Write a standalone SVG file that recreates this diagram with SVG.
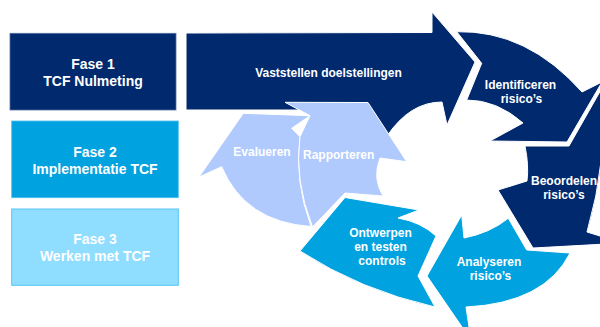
<svg xmlns="http://www.w3.org/2000/svg" width="600" height="327" viewBox="0 0 600 327">
<style>
.navy{fill:#00296E;stroke:#FFFFFF;stroke-width:1;stroke-linejoin:miter}
.mid{fill:#00A2DF;stroke:#FFFFFF;stroke-width:1}
.light{fill:#B0CAFD;stroke:#FFFFFF;stroke-width:1}
.t{font-family:"Liberation Sans",Arial,sans-serif;font-weight:bold;fill:#FFFFFF;text-anchor:middle}
.big{font-size:14px}
.sm{font-size:12px}
</style>
<rect width="600" height="327" fill="#FFFFFF"/>
<g id="fase1">
<rect x="10" y="33.3" width="166" height="76.7" fill="#00296E" stroke="#5570A0" stroke-width="0.8"/>
<text class="t big" x="93" y="68.5">Fase 1</text>
<text class="t big" x="93" y="85.5">TCF Nulmeting</text>
</g>
<g id="fase2">
<rect x="11.7" y="121" width="166.6" height="76.7" fill="#00A2DF" stroke="#4FC0EE" stroke-width="0.8"/>
<text class="t big" x="95" y="157">Fase 2</text>
<text class="t big" x="95" y="174">Implementatie TCF</text>
</g>
<g id="fase3">
<rect x="11.7" y="209" width="166.6" height="76.3" fill="#8FDDFF" stroke="#58C6F2" stroke-width="1"/>
<text class="t big" x="95" y="244">Fase 3</text>
<text class="t big" x="95" y="261">Werken met TCF</text>
</g>
<g id="evalueren">
<path class="light" d="M243.3,113.3 L310,115.7 L291.7,128.3 L300,136.7 Q294,180 311,226.5 Q245,222 221.7,166.7 L199,177 Z"/>
<text class="t sm" x="262" y="155.5">Evalueren</text>
</g>
<g id="vaststellen">
<path class="navy" d="M186,33 L432,32.5 L432,12 L475,62 L447,125 L442,102 Q410,102 387,136 L360,110 L186,110 Z"/>
<text class="t sm" x="328.5" y="76.5">Vaststellen doelstellingen</text>
</g>
<g id="identificeren">
<path class="navy" d="M456.7,31.7 Q527,30 582,92 L602,82 L567,142 L490,141 L523,123 Q497,100 466.7,100 L481.7,63.3 Z"/>
<text class="t sm" x="520.5" y="89">Identificeren</text>
<text class="t sm" x="521.5" y="102.5">risico’s</text>
</g>
<g id="beoordelen">
<path class="navy" d="M602,88 L569,146 L525,146 Q529,165 527,181 L498,190 L533,248 L606,244 L600,236 L587,232 Q608,160 602,88 Z"/>
<text class="t sm" x="564" y="185">Beoordelen</text>
<text class="t sm" x="564" y="199">risico’s</text>
</g>
<g id="analyseren">
<path class="mid" d="M570,253 Q545,303 466,307 L471,340 L427,276 L461.7,215 L464,238 Q490,233 508.3,218.3 L526.7,250 Z"/>
<text class="t sm" x="489" y="265.7">Analyseren</text>
<text class="t sm" x="490.5" y="279.5">risico’s</text>
</g>
<g id="ontwerpen">
<path class="mid" d="M345,197.5 L419,210 L398,218 Q421,222 436,236 L418,276 L435,307 Q360,290 300,251 Z"/>
<text class="t sm" x="380.5" y="236.5">Ontwerpen</text>
<text class="t sm" x="380.5" y="251">en testen</text>
<text class="t sm" x="382" y="265">controls</text>
</g>
<g id="rapporteren">
<path class="light" d="M285,102.3 L368,102.5 L406.7,161.7 L380,158 Q372,178 383,196 L345,193 L312.5,227 Q294,180 300,136.7 L310,115.7 Z"/>
<text class="t sm" x="338.7" y="159">Rapporteren</text>
</g>
<g id="connectors"></g>
</svg>
